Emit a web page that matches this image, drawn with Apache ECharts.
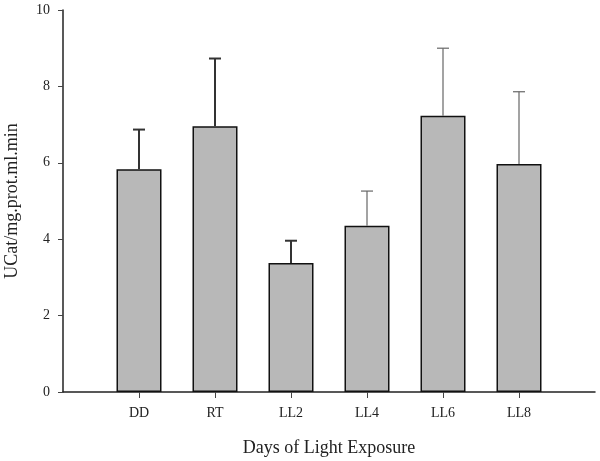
<!DOCTYPE html>
<html>
<head>
<meta charset="utf-8">
<script src="https://cdn.jsdelivr.net/npm/echarts@6/dist/echarts.min.js"></script>
<style>html,body{margin:0;padding:0;background:#fff}#c{width:600px;height:461px}</style>
</head>
<body>
<div id="c"></div>
<script>
var categories = ['DD', 'RT', 'LL2', 'LL4', 'LL6', 'LL8'];
var means = [5.83, 6.96, 3.38, 4.35, 7.23, 5.97];
var upperErrors = [6.87, 8.73, 3.96, 5.26, 9.0, 7.86];
var yTicks = [0, 2, 4, 6, 8, 10];

var axisCats = [''].concat(categories).concat(['']);
var barData = [null].concat(means).concat([null]);
var errData = categories.map(function (c, i) { return [c, means[i], upperErrors[i], i]; });

var font = 'Liberation Serif';
var chart = echarts.init(document.getElementById('c'));
chart.setOption({
  animation: false,
  grid: { left: 63, right: 5, top: 10, bottom: 69, containLabel: false, outerBoundsMode: 'none' },
  xAxis: {
    type: 'category',
    data: axisCats,
    boundaryGap: false,
    name: 'Days of Light Exposure',
    nameLocation: 'middle',
    nameGap: 47,
    nameTextStyle: { fontFamily: font, fontSize: 18, color: '#222' },
    axisLine: { lineStyle: { color: '#222', width: 1.5 } },
    axisTick: { show: true, inside: false, length: 6, lineStyle: { color: '#444' },
      interval: function (idx) { return idx > 0 && idx < axisCats.length - 1; } },
    axisLabel: { fontFamily: font, fontSize: 14, color: '#222', margin: 14, interval: 0 },
    splitLine: { show: false }
  },
  yAxis: {
    type: 'value',
    min: yTicks[0], max: yTicks[yTicks.length - 1], interval: 2,
    name: 'UCat/mg.prot.ml.min',
    nameLocation: 'middle',
    nameGap: 42,
    nameTextStyle: { fontFamily: font, fontSize: 18, color: '#222' },
    axisLine: { show: true, lineStyle: { color: '#222', width: 1.5 } },
    axisTick: { show: true, inside: false, length: 5, lineStyle: { color: '#444' } },
    axisLabel: { fontFamily: font, fontSize: 14, color: '#222', margin: 13 },
    splitLine: { show: false }
  },
  series: [
    {
      type: 'bar',
      data: barData,
      barWidth: 45,
      itemStyle: { color: '#b8b8b8', borderColor: '#111', borderWidth: 1.5 },
      z: 2
    },
    {
      type: 'custom',
      data: errData,
      encode: { x: 0, y: [1, 2] },
      z: 3,
      renderItem: function (params, api) {
        var x = api.value(0);
        var lo = api.coord([x, api.value(1)]);
        var hi = api.coord([x, api.value(2)]);
        var thick = api.value(3) < 3;
        var style = { stroke: thick ? '#333' : '#666', lineWidth: thick ? 2 : 1.2, fill: null };
        var hw = 6;
        return {
          type: 'group',
          children: [
            { type: 'line', shape: { x1: lo[0], y1: lo[1], x2: hi[0], y2: hi[1] }, style: style },
            { type: 'line', shape: { x1: hi[0] - hw, y1: hi[1], x2: hi[0] + hw, y2: hi[1] }, style: style }
          ]
        };
      }
    }
  ]
});
</script>
</body>
</html>
